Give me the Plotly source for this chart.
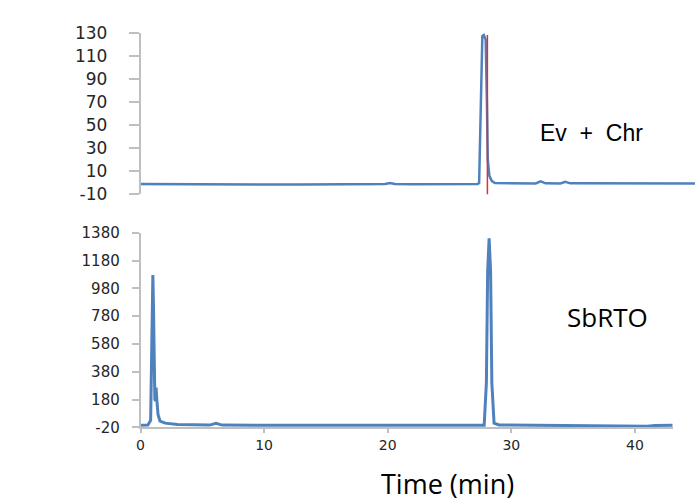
import plotly.graph_objects as go

# ---- data ----
top_time = [0, 2, 5, 8, 10, 13, 16, 19, 19.8, 20.2, 20.6, 22, 24, 26, 27.3,
            27.42, 27.55, 27.68, 27.8, 27.95, 28.05, 28.12, 28.25, 28.45, 28.7, 30,
            32, 32.4, 32.8, 34.0, 34.4, 34.8, 37, 40, 42, 44.9]
top_signal = [-1.0, -1.2, -1.3, -1.4, -1.5, -1.5, -1.4, -1.2, -1.0, -0.2, -1.0, -1.2, -1.3, -1.2, -1.0,
              -0.3, 60, 127, 128, 124, 70, 20, 6, 1.5, -0.2, -0.6,
              -0.6, 1.3, -0.5, -0.6, 0.8, -0.5, -0.6, -0.8, -0.9, -0.7]
faint_time = [0, 5, 10, 15, 19]
faint_signal = [-1.6, -1.7, -1.8, -1.7, -1.5]
marker_time = [28.09, 28.09]
marker_signal = [-12, 128]

bot_time = [0, 0.6, 0.82, 0.9, 0.96, 1.0, 1.05, 1.1, 1.16, 1.21, 1.26, 1.32, 1.42, 1.58,
            2.0, 3.0, 4.0, 5.6, 6.1, 6.6, 10, 15, 20, 25, 27.8, 27.98, 28.08,
            28.2, 28.32, 28.42, 28.6, 29.0, 32, 36, 40, 40.6, 41.0, 41.6, 43.05]
bot_signal = [-5, -3, 30, 700, 1076, 1076, 850, 400, 180, 170, 265, 180, 70, 25,
              10, 0, -3, -4, 8, -4, -6, -7, -7, -7, -6, 300, 1100,
              1340, 1100, 300, 10, -3, -5, -6, -7, -12, -12, -7, -6]

top_ticks = [-10, 10, 30, 50, 70, 90, 110, 130]
top_ticktext = ["-10", "10", "30", "50", "70", "90", "110", "130"]
bot_ticks = [-20, 180, 380, 580, 780, 980, 1180, 1380]
bot_ticktext = ["-20", "180", "380", "580", "780", "980", "1180", "1380"]
x_ticks = [0, 10, 20, 30, 40]

W, H = 695, 502
x0 = 140.5 / W

fig = go.Figure()
fig.add_trace(go.Scatter(x=faint_time, y=faint_signal, mode="lines",
                         line=dict(color="#e8e2a6", width=1.5), xaxis="x", yaxis="y"))
fig.add_trace(go.Scatter(x=top_time, y=top_signal, mode="lines",
                         line=dict(color="#4f81bd", width=2.5), xaxis="x", yaxis="y"))
fig.add_trace(go.Scatter(x=marker_time, y=marker_signal, mode="lines",
                         line=dict(color="#e0302c", width=1.5), xaxis="x", yaxis="y"))
fig.add_trace(go.Scatter(x=bot_time, y=bot_signal, mode="lines",
                         line=dict(color="#4f81bd", width=3), xaxis="x2", yaxis="y2"))

axis_grey = "#bfbfbf"
fig.update_layout(
    width=W, height=H,
    margin=dict(l=0, r=0, t=0, b=0, pad=0),
    paper_bgcolor="white", plot_bgcolor="white",
    showlegend=False,
    xaxis=dict(domain=[x0, 1.0], range=[0, 44.9], visible=False, anchor="y",
               automargin=False),
    yaxis=dict(domain=[1 - 194.3 / H, 1 - 32.7 / H], range=[-10, 130], anchor="x",
               automargin=False,
               tickvals=top_ticks, ticktext=top_ticktext, showgrid=False, zeroline=False,
               showline=True, linecolor=axis_grey, linewidth=1.5,
               ticks="outside", ticklen=10, tickcolor=axis_grey, tickwidth=1.5,
               ticklabelstandoff=18,
               tickfont=dict(family="DejaVu Sans", size=17, color="#262626")),
    xaxis2=dict(domain=[x0, 672.7 / W], range=[0, 43.05], anchor="y2",
                automargin=False,
                tickvals=x_ticks, showgrid=False, zeroline=False,
                showline=True, linecolor=axis_grey, linewidth=1.5,
                ticks="outside", ticklen=4, tickcolor=axis_grey, tickwidth=1.5,
                ticklabelstandoff=0,
                tickfont=dict(family="DejaVu Sans", size=14, color="#262626")),
    yaxis2=dict(domain=[1 - 427.3 / H, 1 - 232.7 / H], range=[-20, 1380], anchor="x2",
                automargin=False,
                tickvals=bot_ticks, ticktext=bot_ticktext, showgrid=False, zeroline=False,
                showline=True, linecolor=axis_grey, linewidth=1.5,
                ticks="outside", ticklen=7, tickcolor=axis_grey, tickwidth=1.5,
                ticklabelstandoff=9,
                tickfont=dict(family="DejaVu Sans", size=15, color="#262626")),
    annotations=[
        dict(text="Ev\u00a0\u00a0+\u00a0\u00a0Chr", xref="paper", yref="paper",
             x=591.7 / W, y=1 - 133 / H,
             showarrow=False, xanchor="center", yanchor="middle",
             font=dict(family="Liberation Sans", size=23, color="black")),
        dict(text="SbRTO", xref="paper", yref="paper", x=607 / W, y=1 - 317 / H,
             showarrow=False, xanchor="center", yanchor="middle",
             font=dict(family="Open Sans", size=26, color="black")),
        dict(text="Time (min)", xref="paper", yref="paper", x=447 / W, y=1 - 483 / H,
             showarrow=False, xanchor="center", yanchor="middle",
             font=dict(family="Open Sans", size=27, color="black")),
    ],
)

fig.write_html("out.html",
               config={"displayModeBar": False},
               post_script="document.body.style.margin='0px';"
                           "document.body.style.padding='0px';"
                           "document.body.style.overflow='hidden';")
